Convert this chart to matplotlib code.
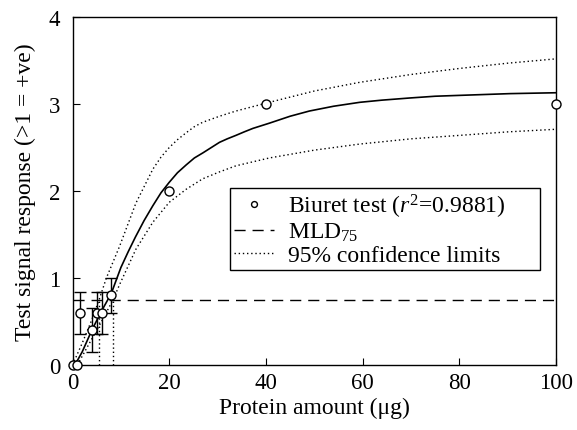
import matplotlib
matplotlib.use("Agg")
import matplotlib.pyplot as plt

plt.rcParams['font.family'] = ['Liberation Serif', 'DejaVu Serif']
plt.rcParams['mathtext.fontset'] = 'custom'
plt.rcParams['mathtext.rm'] = 'Liberation Serif'
plt.rcParams['mathtext.it'] = 'Liberation Serif:italic'

# measured points (Biuret test)
protein = [0, 1, 1.5, 4, 5, 6, 8, 20, 40, 100]
response = [0, 0, 0.6, 0.4, 0.6, 0.6, 0.8, 2.0, 3.0, 3.0]
resp_err = [0, 0, 0.24, 0.25, 0.24, 0.24, 0.2, 0, 0, 0]

# fitted curve
fit_x = [0, 1, 2, 4, 6, 8, 10, 11.5, 13, 14.8, 16.6, 18.3, 20, 21.7, 23.5, 25.2, 27, 28.7,
         30.4, 32, 33.8, 35.5, 37.3, 40.7, 45, 49, 54, 59.4, 64, 69.8, 75, 80.1, 90.5, 100]
fit_y = [0, 0.05, 0.15, 0.4, 0.62, 0.82, 1.12, 1.3, 1.47, 1.66, 1.83, 1.98, 2.1, 2.21, 2.3,
         2.38, 2.44, 2.5, 2.56, 2.6, 2.64, 2.68, 2.72, 2.78, 2.86, 2.92, 2.975, 3.02, 3.045,
         3.07, 3.09, 3.10, 3.12, 3.13]

# 95% confidence limits
upper_x = [0, 2, 4, 5.5, 7, 9.7, 13.1, 16.6, 18.3, 20, 21.7, 23.5, 25.2, 26.9, 30.4, 33.8,
           40.7, 50, 59.4, 70, 80.1, 90, 100]
upper_y = [0, 0.25, 0.52, 0.75, 1.0, 1.36, 1.86, 2.25, 2.39, 2.50, 2.59, 2.67, 2.74, 2.79,
           2.86, 2.92, 3.02, 3.15, 3.25, 3.34, 3.41, 3.47, 3.52]
lower_x = [1, 2, 4, 6, 8.4, 9.7, 13.1, 16.6, 20, 23.5, 26.9, 30.4, 33.8, 40.7, 50, 59.4,
           70, 80.1, 90, 100]
lower_y = [0, 0.1, 0.3, 0.5, 0.75, 0.92, 1.33, 1.64, 1.87, 2.02, 2.14, 2.22, 2.29, 2.38,
           2.47, 2.54, 2.60, 2.64, 2.68, 2.71]

mld75 = 0.75
mld_x = [5.5, 8.4]

fig = plt.figure(figsize=(5.77, 4.31), dpi=100)
ax = fig.add_axes([0.1257, 0.151, 0.838, 0.807])

ax.plot(fit_x, fit_y, color='black', lw=1.2)
ax.plot(upper_x, upper_y, color='black', lw=1.0, ls=(0, (1, 2)))
ax.plot(lower_x, lower_y, color='black', lw=1.0, ls=(0, (1, 2)), label='95% confidence limits')
ax.axhline(mld75, color='black', lw=1.0, ls=(0, (8, 5)), label='MLD$_{75}$')
for xv in mld_x:
    ax.plot([xv, xv], [0, mld75], color='black', lw=1.0, ls=(0, (1, 2)))

sel = [i for i in range(len(protein)) if resp_err[i] > 0]
ax.errorbar([protein[i] for i in sel], [response[i] for i in sel],
            yerr=[resp_err[i] for i in sel], fmt='none', ecolor='black',
            elinewidth=1.0, capsize=4, capthick=1.0)
ax.plot(protein, response, 'o', mfc='white', mec='black', mew=1.0, ms=6.5,
        clip_on=False, zorder=5, label='Biuret test ($r^2$=0.9881)')

ax.set_xlim(0, 100)
ax.set_ylim(0, 4)
ax.set_xticks([0, 20, 40, 60, 80, 100])
ax.set_yticks([0, 1, 2, 3, 4])
ax.tick_params(direction='in', length=5, labelsize=16.5, top=False, right=False)
ax.tick_params(axis='y', pad=9)
ax.tick_params(axis='x', pad=5)
for s in ax.spines.values():
    s.set_linewidth(1.0)

ax.set_xlabel('Protein amount (\u03bcg)', fontsize=17, labelpad=3)
ax.set_ylabel('Test signal response (>1 = +ve)', fontsize=17, labelpad=9)

h, l = ax.get_legend_handles_labels()
order = [2, 1, 0]
leg = ax.legend([h[i] for i in order], [l[i] for i in order],
                loc='upper left', bbox_to_anchor=(0.326, 0.278, 0.641, 0.23),
                mode='expand', borderaxespad=0,
                fontsize=17, markerscale=0.65,
                frameon=True, fancybox=False, edgecolor='black', framealpha=1,
                handlelength=1.7, handletextpad=0.6, borderpad=0.15, labelspacing=0.05)
leg.get_frame().set_linewidth(1.0)

fig.savefig('out.png', dpi=100)
